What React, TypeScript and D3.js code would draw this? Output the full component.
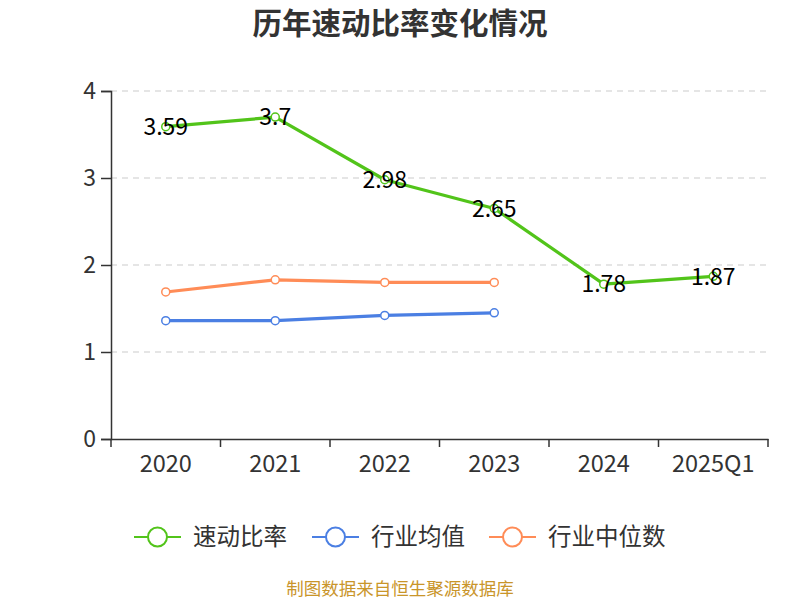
import { useEffect, useRef } from 'react'
import * as d3 from 'd3'

const W = 800
const H = 600
const M = { top: 91, right: 32, bottom: 161, left: 111 }
const IW = W - M.left - M.right
const IH = H - M.top - M.bottom

const FONT = '"Noto Sans CJK SC", "Noto Sans", sans-serif'

const categories = ['2020', '2021', '2022', '2023', '2024', '2025Q1']
const quickRatio = [3.59, 3.7, 2.98, 2.65, 1.78, 1.87]
const industryAvg = [1.36, 1.36, 1.42, 1.45]
const industryMedian = [1.69, 1.83, 1.8, 1.8]
const yTicks = [0, 1, 2, 3, 4]

const seriesNames = ['速动比率', '行业均值', '行业中位数']
const seriesColors = ['#52c41a', '#4b7fe3', '#ff8c57']

export default function App() {
  const svgRef = useRef<SVGSVGElement>(null)

  useEffect(() => {
    const svg = d3.select(svgRef.current)
    svg.selectAll('*').remove()
    svg.attr('viewBox', `0 0 ${W} ${H}`).attr('font-family', FONT)

    // 제목
    svg.append('text')
      .attr('x', W / 2).attr('y', 34)
      .attr('text-anchor', 'middle').attr('font-size', 29.5).attr('font-weight', 700)
      .attr('fill', '#333').text('历年速动比率变化情况')

    const g = svg.append('g').attr('transform', `translate(${M.left},${M.top})`)

    const x = d3.scaleBand().domain(categories).range([0, IW])
    const y = d3.scaleLinear().domain([0, 4]).range([IH, 0])
    const cx = (c: string) => (x(c) ?? 0) + x.bandwidth() / 2

    // 그리드
    yTicks.filter((t) => t > 0).forEach((t) => {
      g.append('line')
        .attr('x1', 0).attr('x2', IW).attr('y1', y(t)).attr('y2', y(t))
        .attr('stroke', '#ccc').attr('stroke-width', 1.2).attr('stroke-dasharray', '6 5')
    })

    // Y 축
    const yAxis = g.append('g')
      .call(d3.axisLeft(y).tickValues(yTicks).tickSize(10).tickPadding(5).tickFormat(d3.format('d')))
    yAxis.select('.domain').attr('stroke', '#333').attr('stroke-width', 1.5)
    yAxis.selectAll('line').attr('stroke', '#333').attr('stroke-width', 1.5)
    yAxis.selectAll('text').attr('font-size', 23).attr('fill', '#333').attr('font-family', FONT)

    // X 축
    const xAxis = g.append('g').attr('transform', `translate(0,${IH})`)
      .call(d3.axisBottom(x).tickSize(0).tickPadding(16))
    xAxis.select('.domain').attr('stroke', '#333').attr('stroke-width', 1.5)
    xAxis.selectAll('text').attr('font-size', 23.5).attr('fill', '#333').attr('font-family', FONT)
    const bounds = [...categories.map((c) => x(c) ?? 0), IW]
    bounds.forEach((b) => {
      g.append('line')
        .attr('x1', b).attr('x2', b).attr('y1', IH).attr('y2', IH + 8)
        .attr('stroke', '#333').attr('stroke-width', 1.5)
    })

    // 라인
    const allSeries = [quickRatio, industryAvg, industryMedian]
    const lineGen = d3.line<number>()
      .x((_, i) => cx(categories[i]))
      .y((d) => y(d))

    allSeries.slice().reverse().forEach((vals, ri) => {
      const si = allSeries.length - 1 - ri
      const color = seriesColors[si]
      g.append('path').datum(vals).attr('d', lineGen)
        .attr('fill', 'none').attr('stroke', color).attr('stroke-width', 3.2)
        .attr('stroke-linejoin', 'round')
      vals.forEach((v, i) => {
        g.append('circle')
          .attr('cx', cx(categories[i])).attr('cy', y(v)).attr('r', 4)
          .attr('fill', '#fff').attr('stroke', color).attr('stroke-width', 1.5)
      })
    })

    // 데이터 라벨
    quickRatio.forEach((v, i) => {
      g.append('text')
        .attr('x', cx(categories[i])).attr('y', y(v))
        .attr('dy', '0.36em')
        .attr('text-anchor', 'middle').attr('font-size', 23).attr('fill', '#000')
        .text(String(v))
    })

    // 범례
    const legendX = [134, 312, 489]
    seriesNames.forEach((name, i) => {
      const lg = svg.append('g').attr('transform', `translate(${legendX[i]},537)`)
      lg.append('line').attr('x1', 0).attr('x2', 47).attr('y1', 0).attr('y2', 0)
        .attr('stroke', seriesColors[i]).attr('stroke-width', 2)
      lg.append('circle').attr('cx', 23.5).attr('cy', 0).attr('r', 9.5)
        .attr('fill', '#fff').attr('stroke', seriesColors[i]).attr('stroke-width', 2)
      lg.append('text').attr('x', 59).attr('y', 0).attr('dy', '0.35em')
        .attr('font-size', 23.5).attr('fill', '#333').text(name)
    })

    // 출처
    svg.append('text')
      .attr('x', W / 2).attr('y', 595)
      .attr('text-anchor', 'middle').attr('font-size', 17.5).attr('fill', '#c9952a')
      .text('制图数据来自恒生聚源数据库')
  }, [])

  return (
    <svg ref={svgRef} width={W} height={H}
      style={{ position: 'absolute', left: 0, top: 0, background: '#fff' }} />
  )
}
